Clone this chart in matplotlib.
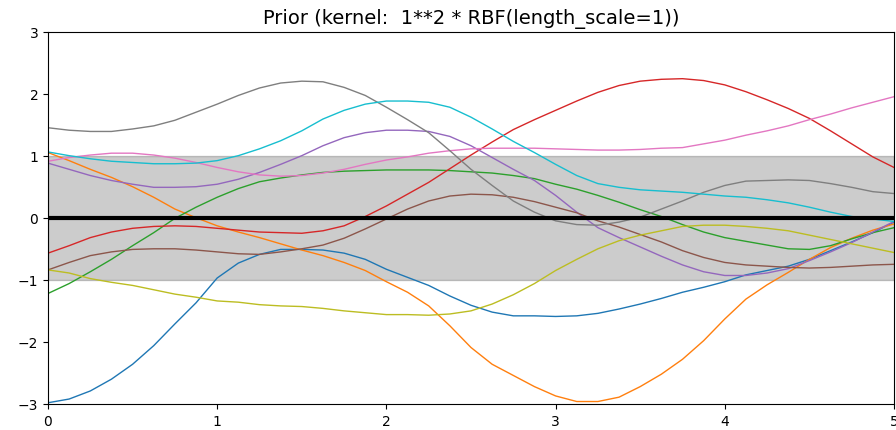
import numpy as np
import matplotlib
matplotlib.use("Agg")
import matplotlib.pyplot as plt

x = np.linspace(0, 5, 41)
mean = np.zeros(41)
std = np.ones(41)

s_blue = [-2.98, -2.92, -2.79, -2.60, -2.36, -2.06, -1.71, -1.37, -0.97, -0.73,
          -0.59, -0.51, -0.51, -0.52, -0.57, -0.67, -0.83, -0.96, -1.09, -1.26,
          -1.41, -1.52, -1.58, -1.58, -1.59, -1.58, -1.54, -1.47, -1.39, -1.30,
          -1.20, -1.12, -1.03, -0.92, -0.85, -0.78, -0.67, -0.53, -0.39, -0.24, -0.07]
s_orange = [1.05, 0.92, 0.78, 0.65, 0.50, 0.33, 0.14, 0.0, -0.13, -0.23,
            -0.32, -0.42, -0.52, -0.61, -0.72, -0.85, -1.03, -1.20, -1.42, -1.74,
            -2.09, -2.36, -2.54, -2.72, -2.87, -2.96, -2.96, -2.89, -2.72, -2.52,
            -2.28, -1.98, -1.63, -1.31, -1.08, -0.88, -0.67, -0.48, -0.33, -0.20, -0.10]
s_green = [-1.22, -1.06, -0.87, -0.67, -0.45, -0.24, -0.01, 0.17, 0.33, 0.47,
           0.58, 0.64, 0.69, 0.73, 0.75, 0.76, 0.77, 0.77, 0.77, 0.76,
           0.74, 0.72, 0.68, 0.63, 0.54, 0.46, 0.36, 0.25, 0.13, 0.02,
           -0.11, -0.23, -0.32, -0.38, -0.44, -0.50, -0.51, -0.45, -0.34, -0.24, -0.16]
s_red = [-0.57, -0.45, -0.32, -0.23, -0.17, -0.14, -0.13, -0.14, -0.17, -0.20,
         -0.23, -0.24, -0.25, -0.21, -0.13, 0.02, 0.19, 0.38, 0.57, 0.79,
         1.01, 1.22, 1.42, 1.58, 1.73, 1.88, 2.02, 2.13, 2.20, 2.23,
         2.24, 2.21, 2.14, 2.03, 1.90, 1.76, 1.60, 1.40, 1.19, 0.98, 0.81]
s_purple = [0.88, 0.78, 0.68, 0.60, 0.54, 0.49, 0.49, 0.50, 0.54, 0.62,
            0.73, 0.86, 1.00, 1.16, 1.29, 1.37, 1.41, 1.41, 1.39, 1.31,
            1.16, 0.97, 0.78, 0.60, 0.36, 0.09, -0.16, -0.32, -0.47, -0.62,
            -0.76, -0.87, -0.93, -0.93, -0.89, -0.82, -0.69, -0.55, -0.40, -0.23, -0.06]
s_brown = [-0.84, -0.72, -0.61, -0.55, -0.51, -0.50, -0.50, -0.52, -0.55, -0.58,
           -0.59, -0.55, -0.50, -0.44, -0.33, -0.18, -0.02, 0.14, 0.27, 0.35,
           0.38, 0.37, 0.33, 0.26, 0.17, 0.08, -0.05, -0.15, -0.27, -0.39,
           -0.53, -0.64, -0.72, -0.76, -0.78, -0.80, -0.81, -0.80, -0.78, -0.76, -0.75]
s_pink = [0.91, 0.97, 1.01, 1.04, 1.04, 1.01, 0.96, 0.89, 0.81, 0.74,
          0.69, 0.67, 0.68, 0.72, 0.78, 0.86, 0.93, 0.98, 1.04, 1.08,
          1.11, 1.12, 1.12, 1.12, 1.11, 1.10, 1.09, 1.09, 1.10, 1.12,
          1.13, 1.19, 1.25, 1.33, 1.40, 1.48, 1.58, 1.67, 1.77, 1.86, 1.95]
s_grey = [1.45, 1.41, 1.39, 1.39, 1.43, 1.48, 1.57, 1.70, 1.83, 1.97,
          2.09, 2.17, 2.20, 2.19, 2.10, 1.97, 1.78, 1.58, 1.37, 1.08,
          0.78, 0.52, 0.27, 0.09, -0.05, -0.11, -0.12, -0.07, 0.01, 0.14,
          0.27, 0.41, 0.52, 0.59, 0.60, 0.61, 0.60, 0.55, 0.49, 0.42, 0.39]
s_olive = [-0.84, -0.89, -0.98, -1.04, -1.09, -1.16, -1.23, -1.28, -1.34, -1.36,
           -1.40, -1.42, -1.43, -1.46, -1.50, -1.53, -1.56, -1.56, -1.57, -1.55,
           -1.50, -1.39, -1.24, -1.06, -0.85, -0.67, -0.50, -0.37, -0.28, -0.21,
           -0.14, -0.12, -0.12, -0.14, -0.17, -0.21, -0.28, -0.35, -0.42, -0.49, -0.56]
s_cyan = [1.06, 1.00, 0.95, 0.91, 0.89, 0.87, 0.87, 0.88, 0.92, 1.00,
          1.11, 1.24, 1.40, 1.59, 1.73, 1.83, 1.88, 1.88, 1.86, 1.78,
          1.62, 1.43, 1.23, 1.05, 0.86, 0.68, 0.55, 0.49, 0.45, 0.43,
          0.41, 0.38, 0.35, 0.33, 0.29, 0.24, 0.17, 0.09, 0.02, -0.02, -0.06]

samples = [s_blue, s_orange, s_green, s_red, s_purple, s_brown, s_pink, s_grey, s_olive, s_cyan]

fig = plt.figure(figsize=(8.96, 4.31), dpi=100)
ax = fig.add_axes([48/896, 26/431, 846/896, 372.5/431])
ax.plot(x, mean, 'k', lw=3, zorder=9)
ax.fill_between(x, mean - std, mean + std, alpha=0.2, color='k')
for s in samples:
    ax.plot(x, s, lw=1)
ax.set_xlim(0, 5)
ax.set_ylim(-3, 3)
ax.set_title("Prior (kernel:  1**2 * RBF(length_scale=1))", fontsize=14)
fig.savefig("out.png", dpi=100)
